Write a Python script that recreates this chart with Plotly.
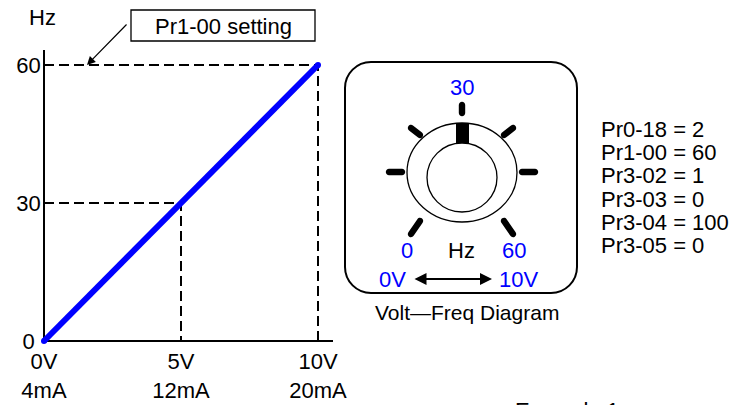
import plotly.graph_objects as go
import math

# ---------------- data ----------------
volts = [0, 10]
freq_hz = [0, 60]
x_tick_vals = [0, 5, 10]
x_tick_text = ["0V<br>4mA", "5V<br>12mA", "10V<br>20mA"]
y_tick_vals = [0, 30, 60]
y_tick_text = ["0\u00a0", "30", "60"]
guide_mid = (5, 30)
guide_max = (10, 60)
params = ["Pr0-18 = 2", "Pr1-00 = 60", "Pr3-02 = 1", "Pr3-03 = 0", "Pr3-04 = 100", "Pr3-05 = 0"]
knob_top_label = "30"
knob_min_label = "0"
knob_max_label = "60"
knob_unit = "Hz"
volt_min_label = "0V"
volt_max_label = "10V"

W, H = 736, 405
FONT = "Liberation Sans, Arial, sans-serif"
FS = 22
BLUE = "#0000FF"


def px(x):
    return x / W


def py(y):
    return 1 - y / H


# axis geometry (pixels)
X0, XPU = 44, 27.4
Y0, YPU = 341, 4.6
xr = [-0.08, (333 - X0) / XPU]
yr = [-0.5, (Y0 - 50) / YPU]
xdom = [(X0 + xr[0] * XPU) / W, 333 / W]
ydom = [(H - (Y0 - yr[0] * YPU)) / H, (H - 50) / H]

fig = go.Figure()

# dashed guides
fig.add_trace(go.Scatter(x=[0, guide_max[0], guide_max[0]], y=[guide_max[1], guide_max[1], 0],
                         mode="lines", line=dict(color="black", width=2, dash="10px,5px"),
                         hoverinfo="skip", showlegend=False))
fig.add_trace(go.Scatter(x=[0, guide_mid[0], guide_mid[0]], y=[guide_mid[1], guide_mid[1], 0],
                         mode="lines", line=dict(color="black", width=2, dash="10px,5px"),
                         hoverinfo="skip", showlegend=False))
# main line
fig.add_trace(go.Scatter(x=volts, y=freq_hz, mode="lines+markers",
                         line=dict(color=BLUE, width=6), marker=dict(color=BLUE, size=6),
                         cliponaxis=False, hoverinfo="skip", showlegend=False))

fig.update_xaxes(domain=xdom, range=xr, showline=False, zeroline=True, zerolinecolor="black",
                 zerolinewidth=2, showgrid=False, tickvals=x_tick_vals, ticktext=x_tick_text,
                 ticks="", tickfont=dict(family=FONT, size=FS, color="black"), fixedrange=True,
                 automargin=False, ticklabelstandoff=3)
fig.update_yaxes(domain=ydom, range=yr, showline=False, zeroline=True, zerolinecolor="black",
                 zerolinewidth=2, showgrid=False, tickvals=y_tick_vals, ticktext=y_tick_text,
                 ticks="", tickfont=dict(family=FONT, size=FS, color="black"), fixedrange=True,
                 automargin=False)

shapes = []
annotations = []


def P(x, y):
    return f"{px(x):.6f},{py(y):.6f}"


# rounded rectangle of the knob diagram
def rounded_rect(x0, y0, x1, y1, r):
    k = 0.5523 * r
    d = (f"M {P(x0 + r, y0)} L {P(x1 - r, y0)} "
         f"C {P(x1 - r + k, y0)} {P(x1, y0 + r - k)} {P(x1, y0 + r)} "
         f"L {P(x1, y1 - r)} "
         f"C {P(x1, y1 - r + k)} {P(x1 - r + k, y1)} {P(x1 - r, y1)} "
         f"L {P(x0 + r, y1)} "
         f"C {P(x0 + r - k, y1)} {P(x0, y1 - r + k)} {P(x0, y1 - r)} "
         f"L {P(x0, y0 + r)} "
         f"C {P(x0, y0 + r - k)} {P(x0 + r - k, y0)} {P(x0 + r, y0)} Z")
    return d


shapes.append(dict(type="path", xref="paper", yref="paper", path=rounded_rect(345, 62, 577, 293, 26),
                   line=dict(color="black", width=2), fillcolor="rgba(0,0,0,0)"))


# stadium-shaped tick marks
def stadium(x1, y1, x2, y2, w):
    dx, dy = x2 - x1, y2 - y1
    L = math.hypot(dx, dy)
    ux, uy = dx / L, dy / L
    nx, ny = -uy * w, ux * w
    k = 0.5523 * w
    ax, ay = ux * w, uy * w
    pts = (f"M {P(x1 + nx, y1 + ny)} L {P(x2 + nx, y2 + ny)} "
           f"C {P(x2 + nx + ux * k, y2 + ny + uy * k)} {P(x2 + ax + nx * 0.5523, y2 + ay + ny * 0.5523)} {P(x2 + ax, y2 + ay)} "
           f"C {P(x2 + ax - nx * 0.5523, y2 + ay - ny * 0.5523)} {P(x2 - nx + ux * k, y2 - ny + uy * k)} {P(x2 - nx, y2 - ny)} "
           f"L {P(x1 - nx, y1 - ny)} "
           f"C {P(x1 - nx - ux * k, y1 - ny - uy * k)} {P(x1 - ax - nx * 0.5523, y1 - ay - ny * 0.5523)} {P(x1 - ax, y1 - ay)} "
           f"C {P(x1 - ax + nx * 0.5523, y1 - ay + ny * 0.5523)} {P(x1 + nx - ux * k, y1 + ny - uy * k)} {P(x1 + nx, y1 + ny)} Z")
    return pts


ticks = [(462, 105, 462, 113), (389, 172, 402, 172), (522, 172, 535, 172),
         (411, 128, 420, 135), (504, 135, 513, 128),
         (411, 234, 420, 221), (504, 221, 513, 234)]
for t in ticks:
    shapes.append(dict(type="path", xref="paper", yref="paper", path=stadium(*t, 3.2),
                       line=dict(width=0), fillcolor="black"))

# knob circles
shapes.append(dict(type="circle", xref="paper", yref="paper", x0=px(407), x1=px(517), y0=py(123), y1=py(222),
                   line=dict(color="black", width=1.3)))
shapes.append(dict(type="circle", xref="paper", yref="paper", x0=px(427), x1=px(497), y0=py(143), y1=py(212),
                   line=dict(color="black", width=1.3)))
shapes.append(dict(type="rect", xref="paper", yref="paper", x0=px(456), x1=px(469), y0=py(123), y1=py(143),
                   line=dict(width=0), fillcolor="black"))

# Pr1-00 setting box
shapes.append(dict(type="rect", xref="paper", yref="paper", x0=px(131), x1=px(315), y0=py(10), y1=py(41),
                   line=dict(color="black", width=1.3)))


def text(t, x, y, color="black", xanchor="center", yanchor="middle", size=FS):
    annotations.append(dict(text=t, x=px(x), y=py(y), xref="paper", yref="paper", showarrow=False,
                            xanchor=xanchor, yanchor=yanchor,
                            font=dict(family=FONT, size=size, color=color)))


text("Pr1-00 setting", 223, 26)
text("Hz", 42, 18)
text(knob_top_label, 462, 88, BLUE)
text(knob_min_label, 407, 250, BLUE)
text(knob_unit, 462, 250)
text(knob_max_label, 514, 250, BLUE)
text(volt_min_label, 393, 279, BLUE)
text(volt_max_label, 518, 279, BLUE)
text("Volt\u2014Freq Diagram", 467, 312, size=21)
for i, p in enumerate(params):
    text(p, 599, 129.3 + 23.3 * i, xanchor="left")
text("Example 1", 513, 396, xanchor="left", yanchor="top")

# arrow to 60 Hz setting
annotations.append(dict(x=(87 - X0) / XPU, y=freq_hz[1], xref="x", yref="y", ax=41, ay=-42,
                        showarrow=True, arrowhead=2, arrowsize=1.4, arrowwidth=1.2, arrowcolor="black",
                        text=""))
# double arrow 0V <-> 10V
annotations.append(dict(x=px(492), y=py(279), ax=-79, ay=0, xref="paper", yref="paper",
                        showarrow=True, arrowhead=2, startarrowhead=2,
                        arrowside="end+start", arrowsize=1.2, startarrowsize=1.2, arrowwidth=2,
                        arrowcolor="black", text=""))

fig.update_layout(width=W, height=H, margin=dict(l=0, r=0, t=0, b=0),
                  paper_bgcolor="white", plot_bgcolor="white",
                  shapes=shapes, annotations=annotations, showlegend=False,
                  font=dict(family=FONT, size=FS, color="black"))

fig.write_html("out.html", config={"displayModeBar": False},
               post_script="document.body.style.margin='0';document.body.style.overflow='hidden';")
